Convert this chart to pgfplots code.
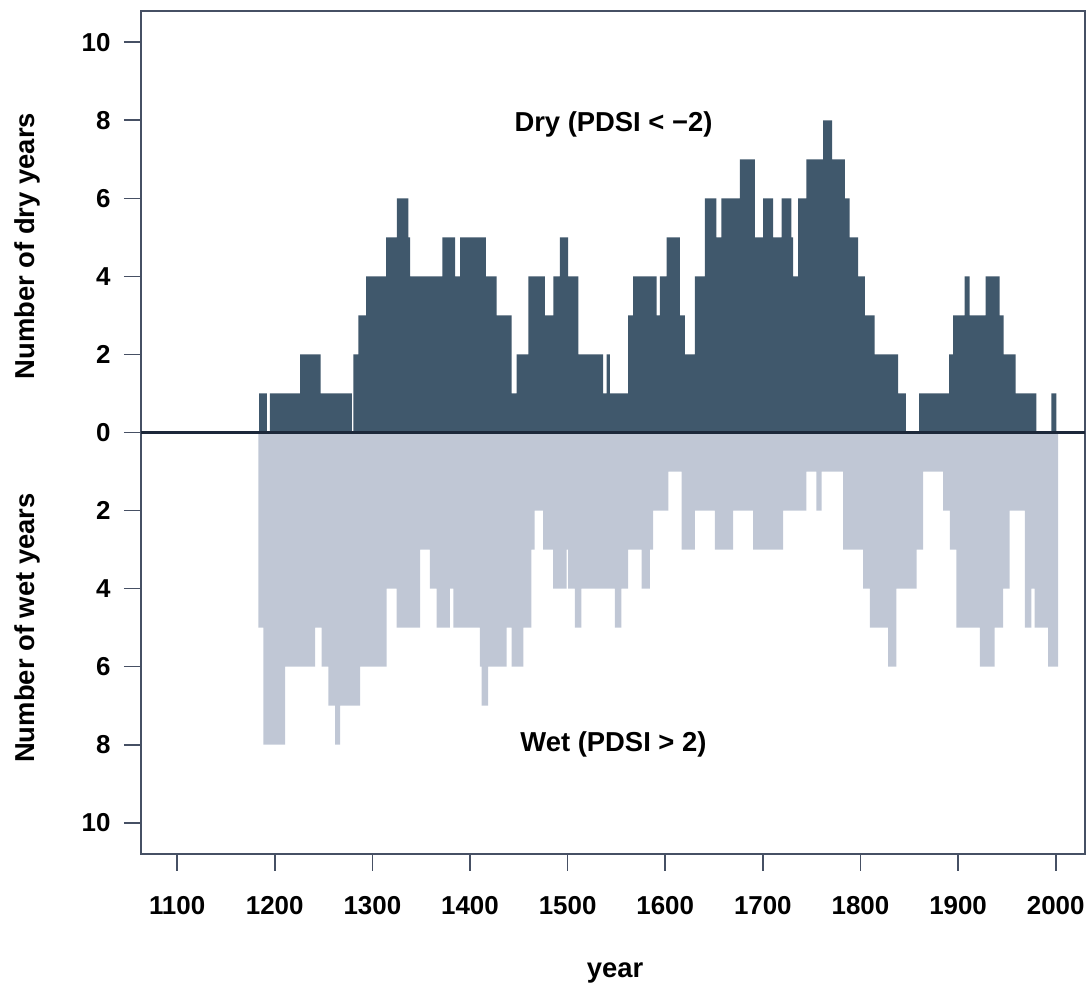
\documentclass[border=0pt]{standalone}
\usepackage{pgfplots}
\pgfplotsset{compat=1.18}
\usepackage{fontspec}
\setmainfont{Liberation Sans}
\usetikzlibrary{calc}

\definecolor{drycol}{RGB}{64,88,108}
\definecolor{wetcol}{RGB}{192,199,213}
\definecolor{zerocol}{RGB}{28,40,58}
\definecolor{framecol}{RGB}{70,80,100}

\newcommand{\tickfont}{\fontsize{26}{30}\selectfont\bfseries}
\newcommand{\lblfont}{\fontsize{27.5}{32}\selectfont\bfseries}

\begin{document}
\begin{tikzpicture}
\begin{axis}[
  name=ax,
  scale only axis,
  width=944bp, height=843bp,
  xmin=1063, xmax=2030,
  ymin=-10.8, ymax=10.8,
  clip=false,
  axis line style={draw=framecol, line width=1.2bp},
  xtick={1100,1200,...,2000},
  xticklabels={1100,1200,1300,1400,1500,1600,1700,1800,1900,2000},
  ytick={-10,-8,-6,-4,-2,0,2,4,6,8,10},
  yticklabels={10,8,6,4,2,0,2,4,6,8,10},
  xtick pos=bottom, ytick pos=left,
  tick align=outside,
  major tick length=17bp,
  tick style={draw=framecol, line width=1.6bp},
  xticklabel style={font=\tickfont, yshift=-22bp},
  yticklabel style={font=\tickfont, xshift=-10bp},
]
% wet years, drawn downward
\addplot[const plot, fill=wetcol, draw=none] coordinates {
(1183.3,-5) (1188.4,-8) (1210.6,-6) (1241.3,-5) (1248.1,-6)
(1254.9,-7) (1261.8,-8) (1266.9,-7) (1287.4,-6) (1314.7,-4) (1324.9,-5)
(1348.8,-3) (1359,-4) (1365.9,-5) (1379.5,-4) (1382.9,-5) (1410.2,-6)
(1411.9,-7) (1418.7,-6) (1437.5,-5) (1442.7,-6) (1454.6,-5) (1462.9,-3)
(1466.3,-2) (1474.9,-3) (1485.1,-4) (1498.9,-3) (1500.6,-4) (1507.4,-5)
(1514.2,-4) (1548.4,-5) (1555.2,-4) (1562.1,-3) (1575.8,-4) (1584.3,-3)
(1587.7,-2) (1603.1,-1) (1616.7,-3) (1630.3,-2) (1650.8,-3)
(1669.6,-2) (1690.1,-3) (1720.8,-2) (1744.7,-1) (1754.9,-2) (1760.1,-1)
(1782.3,-3) (1802.7,-4) (1809.6,-5) (1828.4,-6) (1836.9,-4) (1857.4,-3)
(1864.2,-1) (1884.7,-2) (1891.5,-3) (1898.3,-5) (1922.2,-6) (1937.5,-5)
(1946.1,-4) (1952.9,-2) (1968.3,-5) (1975.1,-4) (1978.5,-5) (1992.2,-6)
(2002.4,0)
} \closedcycle;
% dry years, drawn upward
\addplot[const plot, fill=drycol, draw=none] coordinates {
(1184,1) (1192,0) (1195,1) (1226,2) (1247,1) (1279,0) (1280.5,2)
(1285.6,3) (1293.5,4) (1314,5) (1325,6) (1337,5) (1338.6,4) (1371.7,5)
(1384.7,4) (1389.8,5) (1416.4,4) (1427.3,3) (1442.6,1) (1447.8,2)
(1459.7,4) (1476.8,3) (1485.3,4) (1492.1,5) (1500.6,4) (1510.9,2)
(1536.5,1) (1540,2) (1543.3,1) (1562.1,3) (1567.2,4) (1591.1,3)
(1594.5,4) (1601.3,5) (1615,3) (1620.1,2) (1630.3,4) (1640.6,6)
(1652.5,5) (1657.6,6) (1676.4,7) (1691.7,5) (1700.2,6) (1710.5,5)
(1719.1,6) (1729.3,5) (1731,4) (1736.1,6) (1744.7,7) (1761.7,8)
(1770.9,7) (1783.9,6) (1789,5) (1797.5,4) (1804.4,3) (1814.6,2)
(1838.5,1) (1846.4,0) (1860,1) (1890.7,2) (1894.8,3) (1906.8,4)
(1911.9,3) (1928.3,4) (1942.6,3) (1946.7,2) (1959,1) (1980.2,0)
(1995.5,1) (2000.6,0)
} \closedcycle;
% zero line
\draw[zerocol, line width=2.4bp] (axis cs:1063,0) -- (axis cs:2030,0);
\node[font=\lblfont] at (axis cs:1547,7.9) {Dry (PDSI < \textminus2)};
\node[font=\lblfont] at (axis cs:1547,-8.0) {Wet (PDSI > 2)};
\end{axis}
\node[font=\lblfont, rotate=90] at ([xshift=-114bp]$(ax.north west)!0.279!(ax.south west)$) {Number of dry years};
\node[font=\lblfont, rotate=90] at ([xshift=-114bp]$(ax.north west)!0.732!(ax.south west)$) {Number of wet years};
\node[font=\lblfont] at ([xshift=2bp, yshift=-119bp]ax.south) {year};
\pgfresetboundingbox
\path[use as bounding box] ([xshift=-141bp,yshift=-132bp]ax.south west) rectangle ([xshift=3bp,yshift=11bp]ax.north east);
\end{tikzpicture}
\end{document}
